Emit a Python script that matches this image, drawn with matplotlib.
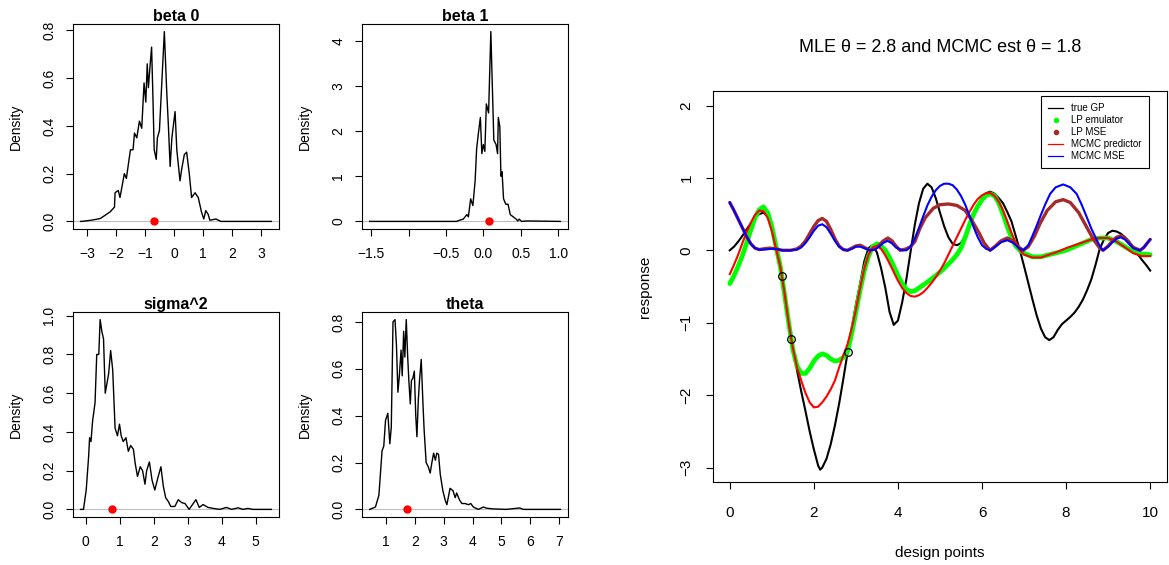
import matplotlib
matplotlib.use("Agg")
from matplotlib import pyplot as plt
from matplotlib.lines import Line2D

# posterior density traces
beta0_x = [-3.22, -3.18, -2.85, -2.54, -2.2, -2.05, -2.03, -1.92, -1.86, -1.71, -1.64, -1.5, -1.41,
	-1.36, -1.28, -1.19, -1.11, -1.03, -0.97, -0.92, -0.88, -0.83, -0.77, -0.73, -0.68, -0.61,
	-0.57, -0.5, -0.43, -0.33, -0.25, -0.19, -0.13, -0.07, 0.04, 0.1, 0.21, 0.27, 0.36, 0.44,
	0.53, 0.61, 0.73, 0.84, 0.95, 1.03, 1.1, 1.18, 1.24, 1.45, 1.62, 3.36]
beta0_y = [0.0, 0.0, 0.005, 0.012, 0.04, 0.06, 0.12, 0.13, 0.1, 0.2, 0.18, 0.3, 0.3,
	0.37, 0.35, 0.42, 0.39, 0.58, 0.5, 0.66, 0.56, 0.64, 0.73, 0.55, 0.3, 0.26,
	0.35, 0.38, 0.55, 0.795, 0.55, 0.4, 0.23, 0.35, 0.46, 0.3, 0.17, 0.22, 0.28, 0.29,
	0.2, 0.1, 0.12, 0.1, 0.04, 0.01, 0.045, 0.03, 0.005, 0.01, 0.0, 0.0]
beta0_est = -0.68

beta1_x = [-1.52, -0.36, -0.31, -0.27, -0.22, -0.2, -0.17, -0.14, -0.11, -0.09, -0.07, -0.04,
	-0.02, 0.0, 0.02, 0.04, 0.07, 0.1, 0.12, 0.14, 0.17, 0.19, 0.2, 0.22, 0.235, 0.25, 0.27,
	0.3, 0.33, 0.36, 0.4, 0.44, 0.46, 0.48, 0.51, 0.58, 1.03]
beta1_y = [0.0, 0.0, 0.03, 0.05, 0.15, 0.1, 0.5, 0.35, 0.9, 1.6, 1.9, 2.3,
	1.5, 1.7, 1.55, 2.6, 2.4, 4.2, 3.0, 1.8, 1.7, 1.5, 2.3, 2.1, 1.0, 1.1, 0.5,
	0.38, 0.38, 0.15, 0.1, 0.05, 0.01, 0.05, 0.0, 0.01, 0.0]
beta1_est = 0.076

sigma2_x = [-0.156, -0.07, 0.01, 0.08, 0.11, 0.15, 0.2, 0.27, 0.32, 0.38, 0.42, 0.47, 0.52,
	0.57, 0.62, 0.67, 0.73, 0.79, 0.86, 0.93, 0.99, 1.04, 1.1, 1.18, 1.25, 1.32, 1.4, 1.45,
	1.52, 1.6, 1.67, 1.74, 1.79, 1.87, 1.95, 2.03, 2.13, 2.21, 2.28, 2.35, 2.43, 2.5, 2.62,
	2.72, 2.82, 2.92, 3.04, 3.16, 3.24, 3.34, 3.45, 3.6, 3.75, 3.94, 4.14, 4.29, 4.48, 4.63,
	4.77, 4.92, 5.46]
sigma2_y = [0.0, 0.0, 0.1, 0.27, 0.37, 0.35, 0.46, 0.55, 0.8, 0.8, 0.98, 0.92, 0.88,
	0.6, 0.65, 0.7, 0.82, 0.72, 0.42, 0.38, 0.44, 0.38, 0.35, 0.37, 0.3, 0.33, 0.31, 0.24,
	0.17, 0.22, 0.2, 0.13, 0.2, 0.245, 0.15, 0.1, 0.17, 0.22, 0.12, 0.06, 0.04, 0.015, 0.015,
	0.05, 0.035, 0.03, 0.0, 0.03, 0.05, 0.01, 0.025, 0.01, 0.005, 0.0, 0.01, 0.0, 0.008, 0.0,
	0.005, 0.0, 0.0]
sigma2_est = 0.76

theta_x = [0.43, 0.63, 0.75, 0.86, 0.92, 0.98, 1.06, 1.13, 1.18, 1.24, 1.31, 1.36, 1.41, 1.46,
	1.52, 1.56, 1.61, 1.65, 1.7, 1.75, 1.79, 1.84, 1.88, 1.93, 1.98, 2.03, 2.07, 2.12, 2.16,
	2.22, 2.28, 2.32, 2.39, 2.47, 2.53, 2.59, 2.65, 2.71, 2.76, 2.82, 2.88, 2.97, 3.05, 3.11,
	3.22, 3.32, 3.4, 3.45, 3.55, 3.63, 3.74, 3.86, 3.94, 4.03, 4.2, 4.38, 4.49, 4.72, 5.18,
	5.64, 5.76, 7.05]
theta_y = [0.0, 0.01, 0.06, 0.25, 0.27, 0.38, 0.41, 0.28, 0.35, 0.8, 0.81, 0.7, 0.5, 0.57,
	0.68, 0.57, 0.76, 0.65, 0.81, 0.65, 0.55, 0.45, 0.55, 0.56, 0.59, 0.4, 0.31, 0.47, 0.55,
	0.64, 0.45, 0.34, 0.2, 0.18, 0.155, 0.2, 0.24, 0.21, 0.24, 0.235, 0.15, 0.08, 0.04, 0.02,
	0.09, 0.08, 0.05, 0.07, 0.04, 0.025, 0.025, 0.02, 0.025, 0.01, 0.0, 0.01, 0.005, 0.002, 0.0,
	0.006, 0.0, 0.0]
theta_est = 1.73

# emulator comparison, right panel
gp_x = [0.0, 0.1, 0.2, 0.3, 0.4, 0.5, 0.6, 0.7, 0.8, 0.9, 1.0, 1.1, 1.2, 1.3, 1.4, 1.5, 1.6,
	1.7, 1.8, 1.9, 2.0, 2.1, 2.15, 2.2, 2.3, 2.4, 2.5, 2.6, 2.7, 2.8, 2.9, 3.0, 3.1, 3.2, 3.3,
	3.4, 3.5, 3.6, 3.7, 3.8, 3.9, 4.0, 4.1, 4.2, 4.3, 4.4, 4.5, 4.6, 4.7, 4.8, 4.9, 5.0, 5.1,
	5.2, 5.3, 5.4, 5.5, 5.6, 5.7, 5.8, 5.9, 6.0, 6.1, 6.2, 6.3, 6.4, 6.5, 6.6, 6.7, 6.8, 6.9,
	7.0, 7.1, 7.2, 7.3, 7.4, 7.5, 7.6, 7.7, 7.8, 7.9, 8.0, 8.1, 8.2, 8.3, 8.4, 8.5, 8.6, 8.7,
	8.8, 8.9, 9.0, 9.1, 9.2, 9.3, 9.4, 9.5, 9.6, 9.7, 9.8, 9.9, 10.0]
gp_y = [0.0, 0.05, 0.12, 0.2, 0.29, 0.37, 0.45, 0.5, 0.52, 0.47, 0.33, 0.06, -0.2, -0.57,
	-1.0, -1.38, -1.66, -1.95, -2.22, -2.5, -2.75, -2.97, -3.03, -3.0, -2.88, -2.68, -2.42,
	-2.12, -1.78, -1.42, -1.08, -0.75, -0.46, -0.15, 0.03, 0.07, -0.03, -0.25, -0.52, -0.85,
	-1.03, -0.97, -0.72, -0.4, -0.02, 0.35, 0.65, 0.85, 0.92, 0.87, 0.72, 0.52, 0.33, 0.18,
	0.09, 0.07, 0.1, 0.2, 0.33, 0.48, 0.62, 0.72, 0.79, 0.81, 0.78, 0.72, 0.65, 0.53, 0.4,
	0.2, 0.0, -0.22, -0.45, -0.68, -0.9, -1.08, -1.2, -1.24, -1.2, -1.1, -1.02, -0.97, -0.92,
	-0.86, -0.78, -0.68, -0.55, -0.4, -0.2, 0.02, 0.15, 0.24, 0.27, 0.26, 0.23, 0.18, 0.12,
	0.04, -0.05, -0.13, -0.2, -0.28]

lp_x = [0.0, 0.1, 0.2, 0.3, 0.4, 0.5, 0.6, 0.7, 0.8, 0.9, 1.0, 1.1, 1.2, 1.3, 1.4, 1.5, 1.6,
	1.7, 1.8, 1.9, 2.0, 2.1, 2.2, 2.3, 2.4, 2.5, 2.6, 2.7, 2.8, 2.9, 3.0, 3.1, 3.2, 3.3, 3.4,
	3.5, 3.6, 3.7, 3.8, 3.9, 4.0, 4.1, 4.2, 4.3, 4.4, 4.5, 4.7, 4.9, 5.1, 5.3, 5.4, 5.5, 5.6,
	5.7, 5.8, 5.9, 6.0, 6.1, 6.2, 6.3, 6.4, 6.5, 6.6, 6.7, 6.8, 6.9, 7.0, 7.2, 7.4, 7.6, 7.8,
	8.0, 8.2, 8.4, 8.6, 8.8, 9.0, 9.2, 9.4, 9.6, 9.8, 10.0]
lp_y = [-0.46, -0.35, -0.22, -0.07, 0.1, 0.28, 0.45, 0.56, 0.6, 0.52, 0.33, 0.05, -0.22,
	-0.6, -1.0, -1.37, -1.6, -1.7, -1.7, -1.63, -1.53, -1.46, -1.43, -1.45, -1.5, -1.53,
	-1.52, -1.48, -1.4, -1.15, -0.85, -0.55, -0.28, -0.08, 0.05, 0.09, 0.06, 0.0, -0.1, -0.22,
	-0.35, -0.46, -0.54, -0.57, -0.56, -0.52, -0.44, -0.35, -0.25, -0.13, -0.06, 0.03, 0.18,
	0.35, 0.5, 0.61, 0.7, 0.76, 0.78, 0.75, 0.65, 0.5, 0.33, 0.18, 0.06, 0.0, -0.04, -0.09,
	-0.09, -0.06, -0.03, 0.0, 0.05, 0.1, 0.15, 0.17, 0.17, 0.12, 0.05, -0.02, -0.05, -0.06]

lpmse_x = [0.0, 0.1, 0.2, 0.3, 0.4, 0.5, 0.6, 0.7, 0.8, 0.95, 1.1, 1.25, 1.45, 1.6, 1.7, 1.8,
	1.9, 2.0, 2.1, 2.2, 2.3, 2.4, 2.5, 2.6, 2.7, 2.8, 2.9, 3.0, 3.1, 3.2, 3.33, 3.45, 3.55,
	3.65, 3.76, 3.86, 3.95, 4.05, 4.2, 4.3, 4.4, 4.52, 4.65, 4.84, 5.0, 5.2, 5.4, 5.6, 5.75,
	5.92, 6.05, 6.19, 6.3, 6.45, 6.6, 6.75, 6.88, 6.98, 7.1, 7.25, 7.38, 7.55, 7.75, 7.93,
	8.1, 8.3, 8.49, 8.65, 8.8, 8.88, 9.0, 9.1, 9.2, 9.3, 9.4, 9.5, 9.6, 9.76, 9.85, 9.93, 10.0]
lpmse_y = [0.66, 0.55, 0.43, 0.31, 0.19, 0.09, 0.03, 0.01, 0.02, 0.03, 0.02, 0.0, 0.0, 0.02,
	0.06, 0.13, 0.23, 0.33, 0.41, 0.44, 0.4, 0.29, 0.16, 0.06, 0.01, 0.0, 0.03, 0.06, 0.07,
	0.04, 0.0, 0.02, 0.07, 0.13, 0.17, 0.13, 0.06, 0.0, 0.02, 0.05, 0.12, 0.3, 0.45, 0.58,
	0.63, 0.64, 0.62, 0.55, 0.42, 0.25, 0.1, 0.0, 0.05, 0.13, 0.17, 0.12, 0.04, 0.0, 0.05,
	0.2, 0.37, 0.55, 0.67, 0.7, 0.66, 0.52, 0.32, 0.15, 0.03, 0.0, 0.06, 0.13, 0.18, 0.2,
	0.17, 0.1, 0.04, 0.0, 0.04, 0.1, 0.15]

mc_x = [0.0, 0.1, 0.2, 0.3, 0.4, 0.5, 0.6, 0.7, 0.8, 0.9, 1.0, 1.1, 1.2, 1.3, 1.4, 1.5, 1.6,
	1.7, 1.8, 1.9, 2.0, 2.1, 2.2, 2.3, 2.4, 2.5, 2.6, 2.7, 2.8, 2.9, 3.0, 3.1, 3.2, 3.3, 3.4,
	3.5, 3.6, 3.7, 3.8, 3.9, 4.0, 4.1, 4.2, 4.3, 4.4, 4.5, 4.6, 4.7, 4.8, 4.9, 5.0, 5.1, 5.2,
	5.3, 5.4, 5.5, 5.6, 5.7, 5.8, 5.9, 6.0, 6.1, 6.2, 6.3, 6.4, 6.5, 6.6, 6.7, 6.8, 6.9, 7.0,
	7.2, 7.4, 7.6, 7.8, 8.0, 8.2, 8.4, 8.6, 8.8, 9.0, 9.2, 9.4, 9.6, 9.8, 10.0]
mc_y = [-0.33, -0.2, -0.06, 0.1, 0.25, 0.38, 0.49, 0.55, 0.54, 0.45, 0.27, 0.02, -0.22, -0.58,
	-1.0, -1.35, -1.62, -1.8, -1.97, -2.1, -2.17, -2.16, -2.1, -2.02, -1.92, -1.8, -1.62,
	-1.45, -1.3, -1.08, -0.82, -0.52, -0.25, -0.06, 0.04, 0.06, 0.02, -0.07, -0.18, -0.3,
	-0.42, -0.52, -0.59, -0.63, -0.64, -0.62, -0.58, -0.52, -0.45, -0.37, -0.28, -0.18, -0.06,
	0.06, 0.18, 0.3, 0.42, 0.53, 0.63, 0.71, 0.76, 0.79, 0.79, 0.75, 0.67, 0.55, 0.4, 0.24,
	0.1, 0.0, -0.06, -0.1, -0.1, -0.06, -0.02, 0.03, 0.07, 0.11, 0.15, 0.17, 0.17, 0.12, 0.04,
	-0.04, -0.08, -0.08]

mcmse_x = [0.0, 0.1, 0.2, 0.3, 0.4, 0.5, 0.6, 0.7, 0.8, 1.0, 1.1, 1.25, 1.45, 1.6, 1.7, 1.8,
	1.9, 2.0, 2.1, 2.2, 2.3, 2.4, 2.5, 2.6, 2.7, 2.8, 2.9, 3.0, 3.1, 3.2, 3.33, 3.45, 3.55,
	3.65, 3.75, 3.85, 3.95, 4.1, 4.2, 4.3, 4.4, 4.5, 4.6, 4.7, 4.8, 4.9, 5.0, 5.1, 5.2, 5.3,
	5.4, 5.5, 5.6, 5.7, 5.8, 5.9, 6.0, 6.1, 6.2, 6.3, 6.45, 6.6, 6.75, 6.88, 6.98, 7.1, 7.2,
	7.3, 7.38, 7.5, 7.62, 7.75, 7.93, 8.1, 8.25, 8.37, 8.49, 8.6, 8.73, 8.82, 8.88, 9.0, 9.1,
	9.2, 9.3, 9.4, 9.5, 9.6, 9.76, 9.85, 9.93, 10.0]
mcmse_y = [0.66, 0.55, 0.43, 0.31, 0.19, 0.09, 0.03, 0.01, 0.01, 0.02, 0.02, 0.0, 0.0, 0.01,
	0.04, 0.1, 0.18, 0.27, 0.34, 0.36, 0.32, 0.23, 0.13, 0.05, 0.01, 0.0, 0.02, 0.05, 0.05,
	0.03, 0.0, 0.01, 0.05, 0.1, 0.13, 0.1, 0.04, 0.0, 0.0, 0.05, 0.16, 0.31, 0.47, 0.62,
	0.74, 0.83, 0.89, 0.92, 0.92, 0.9, 0.84, 0.75, 0.63, 0.48, 0.32, 0.18, 0.07, 0.02, 0.0,
	0.04, 0.11, 0.14, 0.1, 0.03, 0.0, 0.07, 0.2, 0.34, 0.46, 0.63, 0.78, 0.87, 0.91, 0.87,
	0.78, 0.63, 0.46, 0.3, 0.14, 0.04, 0.0, 0.05, 0.11, 0.16, 0.18, 0.15, 0.09, 0.03, 0.0,
	0.04, 0.1, 0.15]

design_x = [1.25, 1.45, 2.8]
design_y = [-0.35, -1.23, -1.4]

theta_mle = 2.8
theta_mcmc = 1.8


def r_lim(vals):
	# R pads the data range by 4% on each side
	lo, hi = min(vals), max(vals)
	pad = 0.04 * (hi - lo)
	return lo - pad, hi + pad


def style_axes(ax, size, xpad=7, ypad=7):
	for s in ax.spines.values():
		s.set_linewidth(0.8)
	ax.tick_params(direction='out', length=5, width=0.8, labelsize=size)
	ax.tick_params(axis='x', pad=xpad)
	ax.tick_params(axis='y', labelrotation=90, pad=ypad)
	for lbl in ax.get_yticklabels():
		lbl.set_va('center')


def density_panel(fig, rect, xs, ys, est, title, xticks, yticks, xlabels, ylabels, tpad):
	ax = fig.add_axes(rect)
	ax.axhline(0, color='#bebebe', lw=0.8, zorder=1)
	ax.plot(xs, ys, color='black', lw=1.0, zorder=2)
	ax.plot([est], [0], 'o', color='red', ms=5, zorder=3)
	ax.set_xlim(r_lim(xs))
	ax.set_ylim(r_lim([0] + ys))
	ax.set_xticks(xticks, xlabels)
	ax.set_yticks(yticks, ylabels)
	ax.set_title(title, fontweight='bold', fontsize=11.5, pad=tpad)
	ax.set_ylabel('Density', fontsize=10)
	ax.yaxis.set_label_coords(-0.245, 0.5)
	style_axes(ax, 10, xpad=8, ypad=7)
	return ax


def main():
	plt.rcParams['font.family'] = ['Liberation Sans', 'DejaVu Sans']
	fig = plt.figure(figsize=(11.69, 5.65), dpi=100)

	density_panel(fig, [0.0624, 0.5947, 0.1762, 0.3628], beta0_x, beta0_y, beta0_est, 'beta 0',
		[-3, -2, -1, 0, 1, 2, 3], [0, 0.2, 0.4, 0.6, 0.8],
		['\u22123', '\u22122', '\u22121', '0', '1', '2', '3'], ['0.0', '0.2', '0.4', '0.6', '0.8'], 2)
	density_panel(fig, [0.3097, 0.5947, 0.1762, 0.3628], beta1_x, beta1_y, beta1_est, 'beta 1',
		[-1.5, -1.0, -0.5, 0.0, 0.5, 1.0], [0, 1, 2, 3, 4],
		['\u22121.5', '', '\u22120.5', '0.0', '0.5', '1.0'], ['0', '1', '2', '3', '4'], 2)
	density_panel(fig, [0.0624, 0.085, 0.1762, 0.3628], sigma2_x, sigma2_y, sigma2_est, 'sigma^2',
		[0, 1, 2, 3, 4, 5], [0, 0.2, 0.4, 0.6, 0.8, 1.0],
		['0', '1', '2', '3', '4', '5'], ['0.0', '0.2', '0.4', '0.6', '0.8', '1.0'], 0)
	density_panel(fig, [0.3097, 0.085, 0.1762, 0.3628], theta_x, theta_y, theta_est, 'theta',
		[1, 2, 3, 4, 5, 6, 7], [0, 0.2, 0.4, 0.6, 0.8],
		['1', '2', '3', '4', '5', '6', '7'], ['0.0', '0.2', '0.4', '0.6', '0.8'], 0)

	ax = fig.add_axes([0.6099, 0.1469, 0.3884, 0.692])
	ax.plot(gp_x, gp_y, color='black', lw=1.5, zorder=2)
	ax.plot(lp_x, lp_y, color='#00ff00', lw=3.4, solid_capstyle='round', zorder=3)
	ax.plot(lpmse_x, lpmse_y, color='#a52a2a', lw=2.4, solid_capstyle='round', zorder=3)
	ax.plot(mc_x, mc_y, color='red', lw=1.5, zorder=4)
	ax.plot(mcmse_x, mcmse_y, color='blue', lw=1.5, zorder=4)
	ax.plot(design_x, design_y, 'o', mfc='none', mec='black', ms=5.5, mew=0.9, zorder=5)
	ax.set_xlim(r_lim([0, 10]))
	ax.set_ylim(r_lim([-3, 2]))
	ax.set_xticks([0, 2, 4, 6, 8, 10])
	ax.set_yticks([-3, -2, -1, 0, 1, 2], ['\u22123', '\u22122', '\u22121', '0', '1', '2'])
	ax.set_xlabel('design points', fontsize=11)
	ax.set_ylabel('response', fontsize=11)
	ax.xaxis.set_label_coords(0.5, -0.164)
	ax.yaxis.set_label_coords(-0.134, 0.5)
	style_axes(ax, 11, xpad=12, ypad=9)
	fig.text(940 / 1169, 1 - 48 / 565, 'MLE \u03b8 = %.1f and MCMC est \u03b8 = %.1f' % (theta_mle, theta_mcmc),
		ha='center', va='center', fontsize=13)

	handles = [
		Line2D([], [], color='black', lw=0.9),
		Line2D([], [], color='#00ff00', marker='o', ls='none', ms=3),
		Line2D([], [], color='#a52a2a', marker='o', ls='none', ms=3),
		Line2D([], [], color='red', lw=0.9),
		Line2D([], [], color='blue', lw=0.9),
	]
	names = ['true GP', 'LP emulator', 'LP MSE', 'MCMC predictor', 'MCMC MSE']
	leg = ax.legend(handles, names, loc='upper right', bbox_to_anchor=(1149 / 1169, 1 - 96 / 565),
		bbox_transform=fig.transFigure, borderaxespad=0, fontsize=7, fancybox=False,
		framealpha=1, edgecolor='black', handlelength=1.6, handletextpad=0.8,
		labelspacing=0.2, borderpad=0.75)
	leg.get_frame().set_linewidth(0.8)

	fig.savefig('out.png', dpi=100)


if __name__ == '__main__':
	main()
